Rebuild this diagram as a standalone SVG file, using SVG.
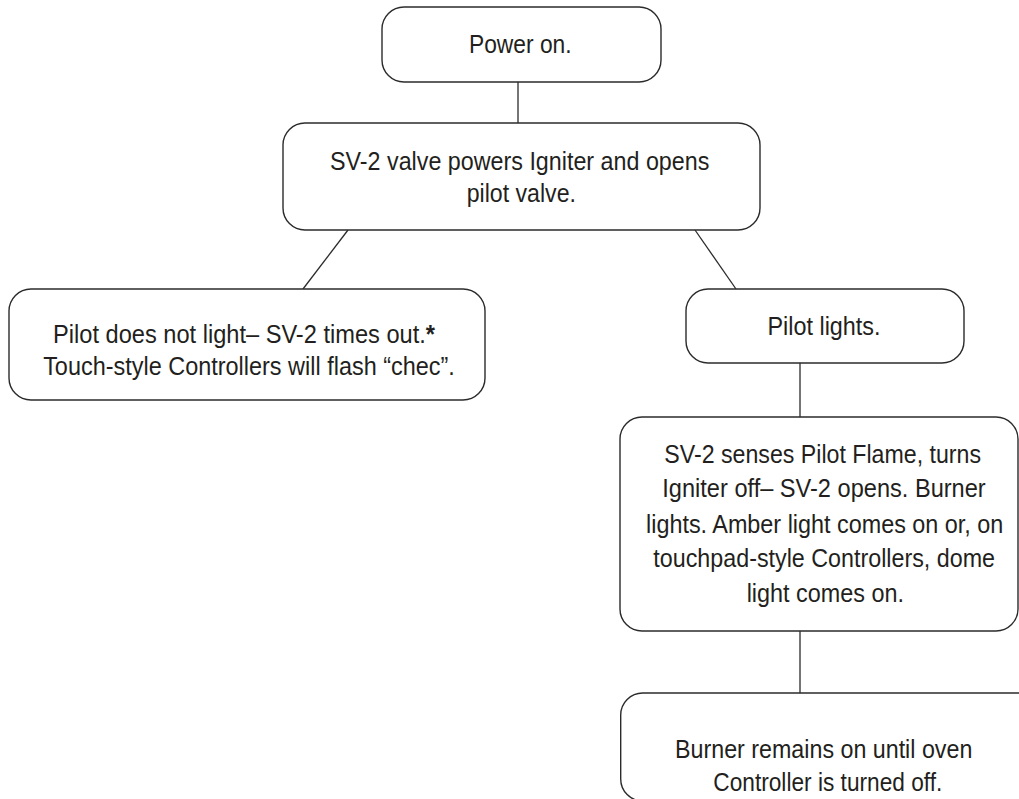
<svg xmlns="http://www.w3.org/2000/svg" width="1019" height="799" viewBox="0 0 1019 799">
<style>
.box{fill:#fff;stroke:#2b2b2b;stroke-width:1.4}
.conn line{stroke:#2b2b2b;stroke-width:1.3}
text{font-family:"Liberation Sans","Arial",sans-serif;font-size:26px;fill:#231f20;text-anchor:middle}
</style>
<rect width="1019" height="799" fill="#fff"/>
<g class="conn">
<line x1="518" y1="82" x2="518" y2="123"/>
<line x1="348" y1="230" x2="303" y2="289"/>
<line x1="695" y1="230" x2="736" y2="289"/>
<line x1="800" y1="363" x2="800" y2="417"/>
<line x1="800" y1="631" x2="800" y2="693"/>
</g>
<g id="power-on">
<rect class="box" x="382" y="7" width="279" height="75" rx="22"/>
<text x="520.3" y="53.3" textLength="102.7" lengthAdjust="spacingAndGlyphs">Power on.</text>
</g>
<g id="sv2-igniter">
<rect class="box" x="283" y="123" width="477" height="107" rx="22"/>
<text x="519.7" y="170" textLength="379.3" lengthAdjust="spacingAndGlyphs">SV-2 valve powers Igniter and opens</text>
<text x="521.3" y="201.7" textLength="109.3" lengthAdjust="spacingAndGlyphs">pilot valve.</text>
</g>
<g id="pilot-no-light">
<rect class="box" x="9" y="289" width="476" height="111" rx="22"/>
<text x="244" y="343.3" textLength="382" lengthAdjust="spacingAndGlyphs">Pilot does not light– SV-2 times out.<tspan font-weight="bold">*</tspan></text>
<text x="249" y="375" textLength="411.7" lengthAdjust="spacingAndGlyphs">Touch-style Controllers will flash “chec”.</text>
</g>
<g id="pilot-lights">
<rect class="box" x="686" y="289" width="278" height="74" rx="22"/>
<text x="824" y="335" textLength="113" lengthAdjust="spacingAndGlyphs">Pilot lights.</text>
</g>
<g id="sv2-senses">
<rect class="box" x="620" y="417" width="398" height="214" rx="22"/>
<text x="822.7" y="462.7" textLength="316.7" lengthAdjust="spacingAndGlyphs">SV-2 senses Pilot Flame, turns</text>
<text x="824" y="497" textLength="323.4" lengthAdjust="spacingAndGlyphs">Igniter off– SV-2 opens. Burner</text>
<text x="824.7" y="533" textLength="357.3" lengthAdjust="spacingAndGlyphs">lights. Amber light comes on or, on</text>
<text x="824.2" y="567" textLength="341.7" lengthAdjust="spacingAndGlyphs">touchpad-style Controllers, dome</text>
<text x="825.3" y="601.7" textLength="157.3" lengthAdjust="spacingAndGlyphs">light comes on.</text>
</g>
<g id="burner-remains">
<rect class="box" x="620.7" y="693" width="420" height="108" rx="22"/>
<text x="823.7" y="758.3" textLength="297.3" lengthAdjust="spacingAndGlyphs">Burner remains on until oven</text>
<text x="827.8" y="790.5" textLength="229" lengthAdjust="spacingAndGlyphs">Controller is turned off.</text>
</g>
</svg>
